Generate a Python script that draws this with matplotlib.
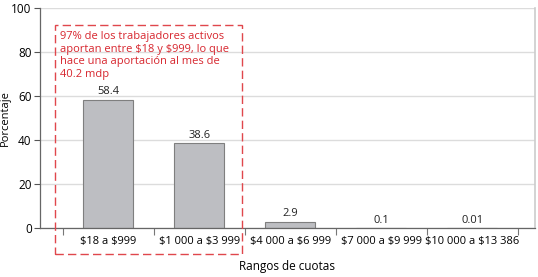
import matplotlib
matplotlib.use("Agg")
import matplotlib.pyplot as plt
from matplotlib.patches import Rectangle
import numpy as np

categories = ["$18 a $999", "$1 000 a $3 999", "$4 000 a $6 999", "$7 000 a $9 999", "$10 000 a $13 386"]
values = [58.4, 38.6, 2.9, 0.1, 0.01]
labels = ["58.4", "38.6", "2.9", "0.1", "0.01"]
yticks = [0, 20, 40, 60, 80, 100]
note = "97% de los trabajadores activos\naportan entre $18 y $999, lo que\nhace una aportación al mes de\n40.2 mdp"

plt.rcParams['font.family'] = ['Open Sans', 'DejaVu Sans']
plt.rcParams['text.parse_math'] = False

fig = plt.figure(figsize=(5.38, 2.77), dpi=100)
ax = fig.add_axes([0.0743, 0.177, 0.92, 0.794])

x = np.arange(len(categories))
ax.set_axisbelow(True)
ax.yaxis.grid(True, color="#dcdcdc", linewidth=1)
ax.bar(x, values, width=0.55, color="#bdbec2", edgecolor="#7f7f7f", linewidth=0.8, zorder=2)
for xi, v, lab in zip(x, values, labels):
    ax.text(xi, v + 1.0, lab, ha="center", va="bottom", fontsize=8, color="#222222", parse_math=False)

ax.set_ylim(0, 100)
ax.set_xlim(-0.75, 4.69)
ax.set_yticks(yticks)
ax.tick_params(axis="y", labelsize=8.5, length=4, color="#555555", width=0.8, pad=2)
ax.set_xticks(x)
ax.set_xticklabels(categories, fontsize=8)
ax.tick_params(axis="x", length=0, pad=6)
ax.set_xticks(np.arange(-0.5, 5, 1), minor=True)
ax.tick_params(axis="x", which="minor", length=5, color="#777777", width=0.8)

for s in ["left", "bottom"]:
    ax.spines[s].set_color("#666666")
    ax.spines[s].set_linewidth(0.9)
ax.spines["top"].set_visible(False)
ax.spines["right"].set_color("#cccccc")
ax.spines["right"].set_linewidth(1.2)

ax.set_ylabel("Porcentaje", fontsize=8)
ax.yaxis.set_label_coords(-0.058, 0.5)
ax.set_xlabel("Rangos de cuotas", fontsize=8.5, labelpad=9)

# dashed highlight box (figure coords)
W, H = 538, 277
x0, x1, yt, yb = 55, 242, 25, 254
rect = Rectangle((x0 / W, 1 - yb / H), (x1 - x0) / W, (yb - yt) / H, transform=fig.transFigure,
                 fill=False, edgecolor="#e0474c", linestyle=(0, (6, 3)), linewidth=1.0, clip_on=False)
fig.add_artist(rect)
fig.text(60 / W, 1 - 31 / H, note, ha="left", va="top", fontsize=8, color="#d7262e", linespacing=1.2)

fig.savefig("out.png", dpi=100)
